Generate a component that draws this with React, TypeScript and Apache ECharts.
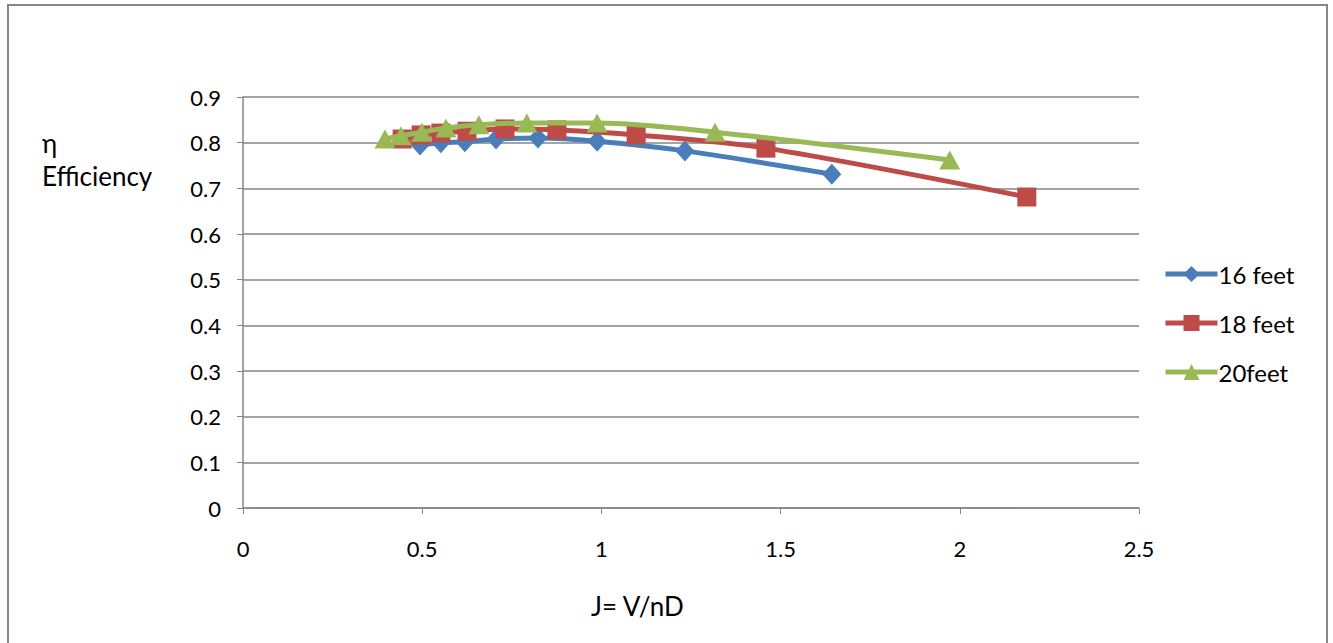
import React, { useEffect, useRef } from "react";
import * as echarts from "echarts";

const xTicks = [0, 0.5, 1, 1.5, 2, 2.5];
const yTicks = [0, 0.1, 0.2, 0.3, 0.4, 0.5, 0.6, 0.7, 0.8, 0.9];

const seriesNames = ["16 feet", "18 feet", "20feet"];

const j16 = [0.494, 0.552, 0.619, 0.706, 0.823, 0.988, 1.233, 1.643];
const eta16 = [0.795, 0.8, 0.802, 0.808, 0.81, 0.803, 0.782, 0.731];

const j18 = [0.444, 0.497, 0.552, 0.625, 0.731, 0.876, 1.097, 1.459, 2.187];
const eta18 = [0.808, 0.817, 0.821, 0.825, 0.83, 0.828, 0.817, 0.788, 0.681];

const j20 = [0.396, 0.441, 0.499, 0.566, 0.658, 0.792, 0.988, 1.317, 1.972];
const eta20 = [0.808, 0.815, 0.823, 0.832, 0.839, 0.843, 0.843, 0.823, 0.762];

const colors = ["#4A7EBB", "#BE4B48", "#98B954"];
const symbols = ["diamond", "rect", "triangle"];
const symbolSizes = [[19, 21], 19, [21, 19]];

const FONT = "Lato";

export default function App() {
  const ref = useRef<HTMLDivElement>(null);

  useEffect(() => {
    document.body.style.margin = "0";
    if (!ref.current) return;
    const chart = echarts.init(ref.current, undefined, { renderer: "svg" });
    const xs = [j16, j18, j20];
    const ys = [eta16, eta18, eta20];
    const series = seriesNames.map((name, i) => ({
      name,
      type: "line",
      smooth: 0.3,
      data: xs[i].map((x, k) => [x, ys[i][k]]),
      symbol: symbols[i],
      symbolSize: symbolSizes[i],
      showAllSymbol: true,
      lineStyle: { color: colors[i], width: 5 },
      itemStyle: { color: colors[i] },
      z: 2 + i,
    }));

    chart.setOption({
      animation: false,
      backgroundColor: "#ffffff",
      textStyle: { fontFamily: FONT },
      grid: { left: 243, right: 194, top: 97, bottom: 135 },
      xAxis: {
        type: "value",
        min: xTicks[0],
        max: xTicks[xTicks.length - 1],
        interval: 0.5,
        axisLine: { show: true, lineStyle: { color: "#868686", width: 1.5 } },
        axisTick: { show: true, length: 6, lineStyle: { color: "#868686" } },
        splitLine: { show: false },
        axisLabel: { color: "#000", fontSize: 22, margin: 29, fontFamily: FONT },
      },
      yAxis: {
        type: "value",
        min: yTicks[0],
        max: yTicks[yTicks.length - 1],
        interval: 0.1,
        axisLine: { show: true, lineStyle: { color: "#868686", width: 1.5 } },
        axisTick: { show: true, length: 6, lineStyle: { color: "#868686" } },
        splitLine: { show: true, lineStyle: { color: "#868686", width: 1.5 } },
        axisLabel: {
          color: "#000",
          fontSize: 22,
          margin: 22,
          fontFamily: FONT,
          formatter: (v: number) => String(Math.round(v * 10) / 10),
        },
      },
      legend: {
        orient: "vertical",
        left: 1158,
        top: 257,
        itemWidth: 52,
        itemHeight: 20,
        itemGap: 25,
        lineStyle: { width: 5 },
        textStyle: { color: "#000", fontSize: 24, lineHeight: 20, fontFamily: FONT, padding: [0, 0, 0, -4] },
        data: seriesNames,
      },
      graphic: [
        {
          type: "rect",
          shape: { x: 8, y: 5, width: 1319, height: 720 },
          style: { fill: "none", stroke: "#868686", lineWidth: 2 },
          silent: true,
          z: -1,
        },
        {
          type: "text",
          left: 42,
          top: 130,
          style: { text: "η", fontSize: 26, fill: "#000", fontFamily: FONT },
        },
        {
          type: "text",
          left: 42,
          top: 163,
          style: { text: "Efficiency", fontSize: 26, fill: "#000", fontFamily: FONT },
        },
        {
          type: "text",
          left: 591,
          top: 593,
          style: { text: "J= V/nD", fontSize: 26, fill: "#000", fontFamily: FONT },
        },
      ],
      series,
    });
    return () => chart.dispose();
  }, []);

  return <div ref={ref} style={{ width: 1333, height: 643 }} />;
}
